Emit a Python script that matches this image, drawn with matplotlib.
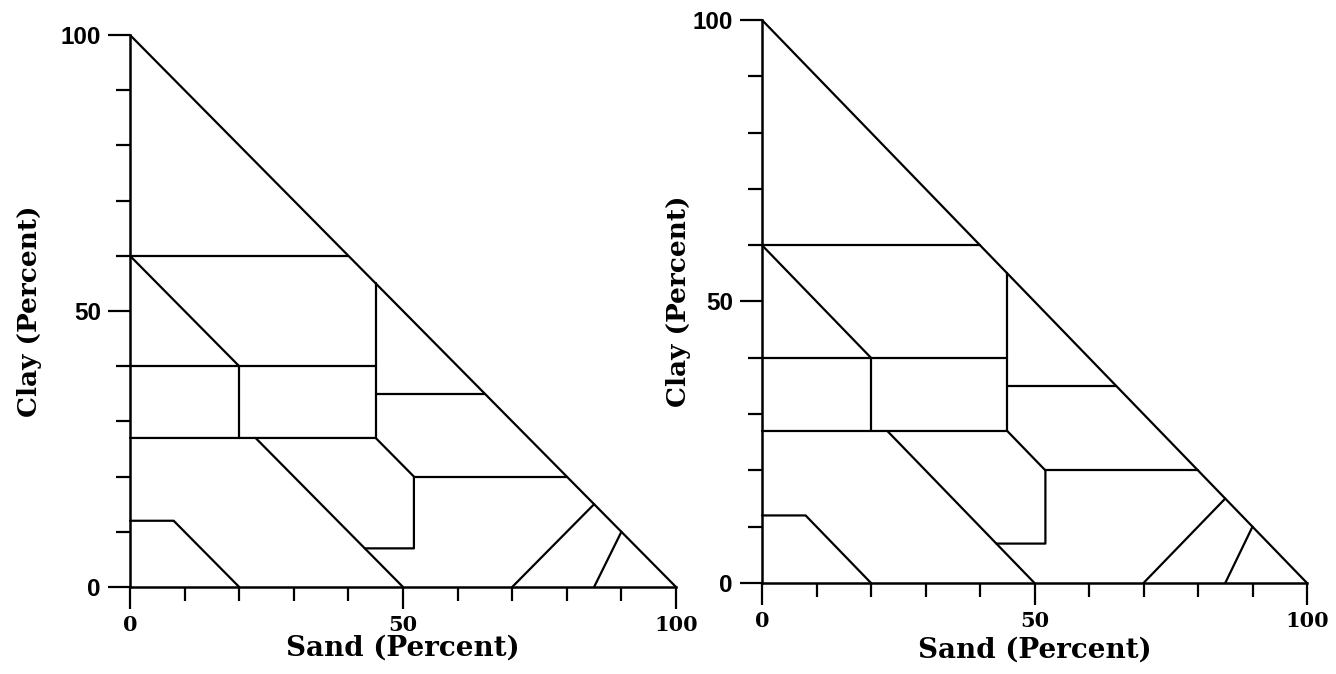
import matplotlib
matplotlib.use("Agg")
import matplotlib.pyplot as plt

# Texture-class boundary polylines (sand %, clay %)
hyp_sand = [0, 100]
hyp_clay = [100, 0]
b60_sand = [0, 40]
b60_clay = [60, 60]
diag_clay_sand = [0, 20]
diag_clay_clay = [60, 40]
b40_sand = [0, 45]
b40_clay = [40, 40]
v20_sand = [20, 20]
v20_clay = [40, 27]
v45_sand = [45, 45]
v45_clay = [55, 27]
b27_sand = [0, 45, 52, 52, 43]
b27_clay = [27, 27, 20, 7, 7]
b35_sand = [45, 65]
b35_clay = [35, 35]
b20_sand = [52, 80]
b20_clay = [20, 20]
loam_sand = [23, 50]
loam_clay = [27, 0]
silt_sand = [0, 8, 20]
silt_clay = [12, 12, 0]
sl_sand = [70, 85]
sl_clay = [0, 15]
ls_sand = [85, 90]
ls_clay = [0, 10]

lines = [
    (hyp_sand, hyp_clay), (b60_sand, b60_clay), (diag_clay_sand, diag_clay_clay),
    (b40_sand, b40_clay), (v20_sand, v20_clay), (v45_sand, v45_clay),
    (b27_sand, b27_clay), (b35_sand, b35_clay), (b20_sand, b20_clay),
    (loam_sand, loam_clay), (silt_sand, silt_clay), (sl_sand, sl_clay),
    (ls_sand, ls_clay),
]

major_ticks = [0, 50, 100]
major_labels = ["0", "50", "100"]
minor_ticks = [10, 20, 30, 40, 60, 70, 80, 90]
xlabel = "Sand (Percent)"
ylabel = "Clay (Percent)"

fig = plt.figure(figsize=(13.36, 6.74), dpi=100)
serif = dict(family="DejaVu Serif", weight="bold")
sans = dict(family="Liberation Sans", weight="bold")

axes_rects = [
    [130/1336, 87/674, 546/1336, 552/674],
    [762/1336, 91/674, 545/1336, 563/674],
]
ylabel_pads = [13, 1]
xlabel_pads = [0, 4]

for rect, ypad, xpad in zip(axes_rects, ylabel_pads, xlabel_pads):
    ax = fig.add_axes(rect)
    for xs, ys in lines:
        ax.plot(xs, ys, color="black", lw=1.6, solid_capstyle="round", clip_on=False)
    ax.set_xlim(0, 100)
    ax.set_ylim(0, 100)
    for s in ["top", "right"]:
        ax.spines[s].set_visible(False)
    for s in ["left", "bottom"]:
        ax.spines[s].set_linewidth(1.8)
    ax.set_xticks(major_ticks)
    ax.set_yticks(major_ticks)
    ax.set_xticks(minor_ticks, minor=True)
    ax.set_yticks(minor_ticks, minor=True)
    ax.set_xticklabels(major_labels, fontsize=15, **serif)
    ax.set_yticklabels(major_labels, fontsize=17.5, **sans)
    ax.tick_params(which="major", direction="out", length=16, width=1.6)
    ax.tick_params(which="minor", direction="out", length=10, width=1.6)
    ax.tick_params(axis="x", which="major", pad=4)
    ax.tick_params(axis="y", which="major", pad=5)
    ax.set_xlabel(xlabel, fontsize=20, labelpad=xpad, **serif)
    ax.set_ylabel(ylabel, fontsize=19, labelpad=ypad, **serif)

fig.savefig("out.png", dpi=100)
